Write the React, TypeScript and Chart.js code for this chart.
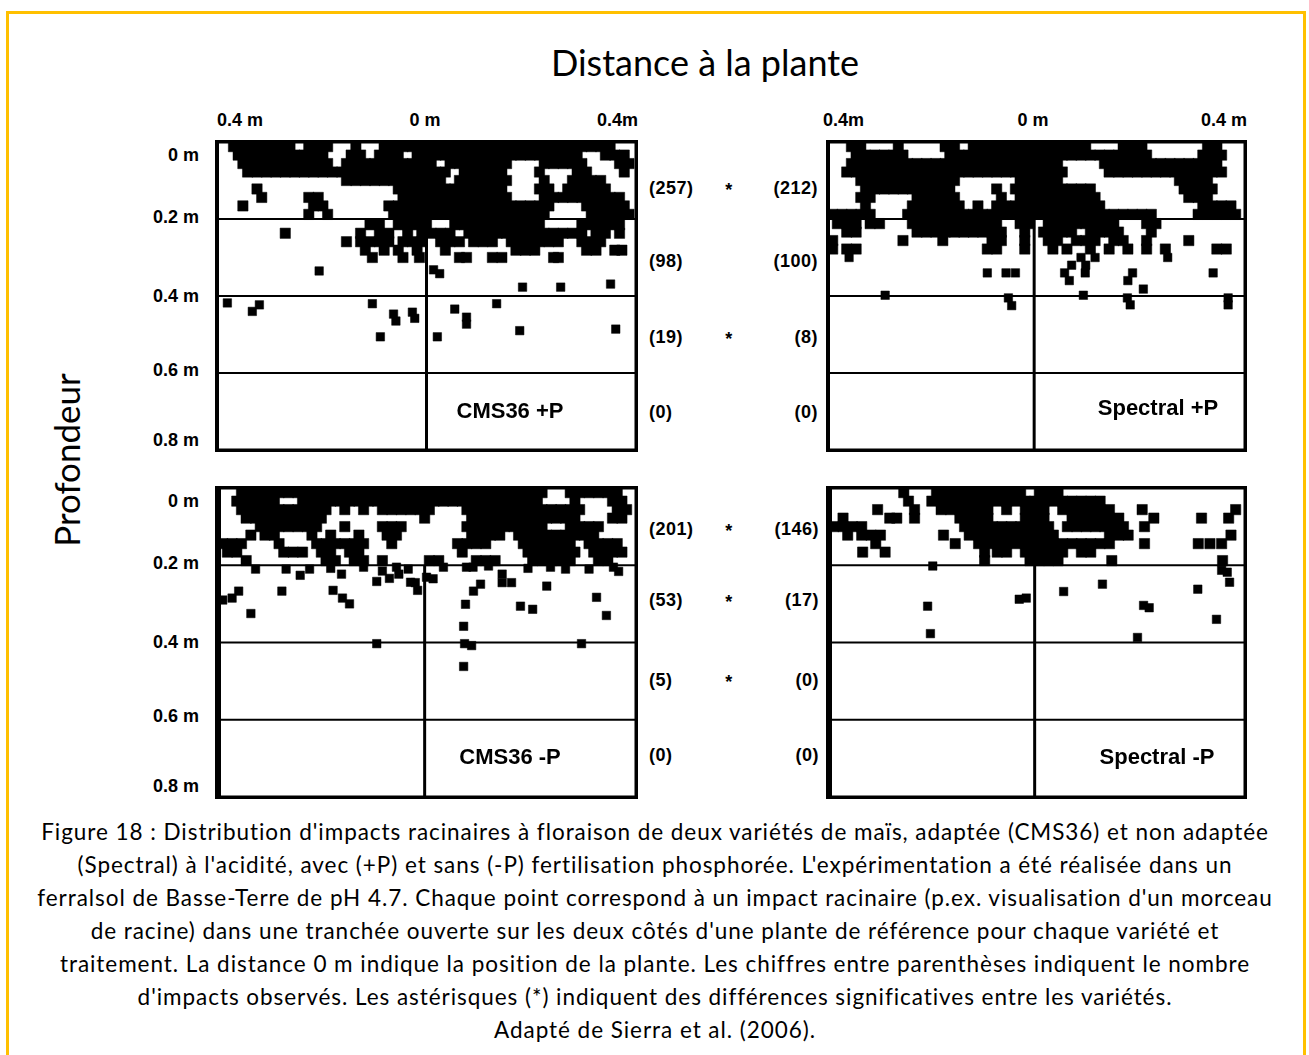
import React, { useEffect, useRef } from 'react';
import { Chart, registerables } from 'chart.js';

Chart.register(...registerables);

type Row = [number, number[]];
type Pt = [number, number];

// Units: depth in cm (0 = soil surface), horizontal distance in cm (0 = plant, negative = left side)

// ---------- CMS36 +P ----------
const cmsPlusTopRows: Row[] = [
  [1.2, [-41, -39, -37, -35, -33, -31, -29, -25, -23, -21, -15, -9, -7, -5, -3, -1, 1, 3, 5, 7, 9, 11, 13, 15, 17, 19, 21, 23, 25, 27, 29, 31, 33, 35, 37, 39]],
  [3.4, [-40, -38, -36, -34, -32, -30, -28, -26, -24, -22, -16, -14, -10, -8, -6, -2, 0, 2, 4, 6, 8, 10, 12, 14, 16, 18, 20, 22, 24, 26, 28, 30, 32, 38, 40, 42]],
  [5.6, [-39, -37, -35, -33, -31, -29, -27, -25, -23, -21, -17, -15, -13, -11, -9, -7, -5, -3, -1, 1, 5, 7, 9, 11, 13, 15, 17, 25, 27, 29, 31, 33, 41, 43]],
  [7.8, [-38, -36, -34, -32, -30, -28, -26, -24, -22, -20, -18, -16, -14, -12, -10, -8, -6, -4, -2, 0, 2, 4, 8, 10, 12, 14, 16, 24, 32, 34, 42]],
  [10, [-17, -15, -13, -11, -9, -7, -5, -3, -1, 1, 3, 7, 9, 11, 13, 15, 17, 25, 31, 33, 35, 37]],
  [12.2, [-36, -6, -4, -2, 0, 2, 4, 6, 8, 10, 12, 14, 16, 24, 26, 30, 32, 34, 36, 38]],
  [14.4, [-35, -25, -23, -5, -3, -1, 1, 3, 5, 7, 9, 11, 13, 15, 17, 25, 27, 29, 31, 33, 35, 37, 39, 41]],
  [16.6, [-39, -24, -22, -8, -6, -4, -2, 0, 2, 4, 6, 8, 10, 12, 14, 16, 18, 20, 22, 24, 26, 34, 36, 38, 40, 42]],
  [18.8, [-25, -21, -7, -5, -3, -1, 1, 3, 5, 7, 9, 11, 13, 15, 17, 19, 21, 23, 25, 35, 37, 39, 41, 43]],
];
const cmsPlusMidRows: Row[] = [
  [21.5, [-12, -10, -6, -4, -2, 0, 6, 8, 10, 12, 14, 16, 18, 20, 22, 24, 33, 35, 37, 39, 41]],
  [23.7, [-30, -14, -10, -8, -4, -1, 1, 3, 5, 9, 11, 13, 15, 17, 19, 21, 23, 25, 27, 29, 31, 33, 36, 38, 41]],
  [25.9, [-17, -14, -12, -10, -8, -5, -3, -1, 3, 5, 7, 10, 12, 14, 18, 20, 22, 24, 26, 28, 33, 35, 37]],
  [28.1, [-13, -9, -6, -2, 4, 19, 21, 23, 34, 36, 40, 41.5]],
  [30, [-11.5, -5, -1.5, 7, 8.5, 14, 16, 27, 28]],
];
const cmsPlusScattered: Pt[] = [
  [-22.8, 33.5], [1.5, 33.2], [2.8, 34.2], [20.4, 37.7], [28.5, 37.7], [39.1, 36.9],
  [-42.3, 41.8], [-37, 44], [-35.5, 42.3], [-11.5, 42], [-7, 44.7], [-6.5, 46.5], [-3, 44.2], [-2.5, 45.8],
  [-9.8, 50.6], [2.3, 50.6], [6, 43.4], [8.5, 45.5], [8.5, 47.3], [14.9, 42], [19.8, 49], [40.2, 48.6],
];

// ---------- Spectral +P ----------
const specPlusTopRows: Row[] = [
  [1.2, [-39, -37, -29, -19, -17, -13, -11, -9, -7, -5, -3, -1, 1, 3, 5, 7, 9, 11, 19, 21, 23, 37, 39]],
  [3.4, [-38, -36, -34, -32, -30, -28, -18, -16, -14, -12, -10, -8, -6, -4, -2, 0, 2, 4, 6, 8, 10, 12, 14, 16, 18, 20, 22, 24, 36, 38, 40]],
  [5.6, [-39, -37, -35, -33, -31, -29, -27, -25, -23, -21, -19, -17, -15, -13, -11, -9, -7, -5, -3, -1, 1, 3, 5, 15, 17, 19, 21, 23, 25, 27, 29, 31, 33, 35, 37, 39]],
  [7.8, [-40, -38, -36, -34, -32, -30, -28, -26, -24, -22, -20, -18, -16, -14, -12, -10, -8, -6, -4, -2, 0, 2, 4, 6, 16, 18, 20, 22, 24, 26, 28, 30, 32, 34, 36, 38, 40]],
  [10, [-37, -35, -33, -31, -29, -27, -25, -23, -21, -19, -17, -3, -1, 1, 3, 5, 31, 33, 35, 37]],
  [12.2, [-36, -34, -32, -30, -28, -26, -24, -22, -20, -18, -8, -4, -2, 0, 2, 4, 6, 8, 10, 12, 32, 34, 36, 38]],
  [14.4, [-37, -35, -25, -23, -21, -19, -17, -7, -3, -1, 1, 3, 5, 7, 9, 11, 13, 33, 35, 37]],
  [16.6, [-36, -26, -24, -22, -20, -18, -16, -12, -8, -6, -4, -2, 0, 2, 4, 6, 8, 10, 12, 14, 36, 38, 40, 42]],
  [18.8, [-43, -41, -39, -37, -35, -27, -25, -23, -21, -19, -17, -15, -13, -11, -9, -7, -5, -3, -1, 1, 3, 5, 7, 9, 11, 13, 15, 17, 19, 21, 23, 25, 35, 37, 39, 41, 43]],
];
const specPlusMidRows: Row[] = [
  [21.2, [-42, -40, -38, -35, -33, -26, -24, -22, -20, -18, -16, -14, -12, -10, -8, -3, -1, 3, 5, 7, 9, 11, 13, 15, 17, 24, 26]],
  [23.4, [-40, -38, -25, -23, -21, -19, -17, -15, -13, -11, -9, -7, -2, 2, 4, 6, 8, 12, 14, 16, 18, 25]],
  [25.6, [-43, -28, -19.5, -9, -7, -2, 3, 5, 9, 11, 13, 17, 19, 24, 33]],
  [27.8, [-43, -40, -38, -10, -8, -2, 4, 7, 12, 16, 20, 24, 28, 39, 41]],
];
const specPlusScattered: Pt[] = [
  [-39.5, 30], [10, 30], [13, 30], [28.5, 30], [8, 32], [11, 32],
  [-10, 34], [-6, 34], [-4, 34], [6.5, 34], [10.9, 34], [21, 34], [38.2, 34], [7.5, 36], [20, 36],
  [23.3, 38.2],
  [-31.8, 39.8], [-5.5, 40.5], [-4.8, 42.5], [10.5, 39.8], [19.9, 40.5], [20.5, 42.3], [41.4, 40.5], [41.4, 42.3],
];

// ---------- CMS36 -P ----------
const cmsMinusTopRows: Row[] = [
  [1.2, [-39, -37, -35, -33, -31, -29, -27, -25, -23, -21, -19, -17, -15, -13, -11, -9, -7, -5, -3, -1, 1, 3, 5, 7, 9, 11, 13, 15, 17, 19, 21, 23, 25, 31, 33, 35, 37, 39, 41]],
  [3.4, [-40, -38, -36, -34, -32, -26, -24, -22, -20, -18, -16, -14, -12, -10, -8, -6, -4, -2, 0, 2, 4, 6, 8, 10, 12, 14, 16, 18, 20, 22, 24, 32, 40, 42]],
  [5.6, [-39, -37, -35, -33, -31, -29, -27, -25, -23, -21, -17, -13, -9, -7, -5, -3, -1, 1, 9, 11, 13, 15, 17, 19, 21, 23, 25, 27, 29, 31, 33, 41, 43]],
  [7.8, [-38, -36, -34, -32, -30, -28, -26, -24, -22, 0, 10, 12, 14, 16, 18, 20, 22, 24, 26, 28, 30, 32, 40, 42]],
  [10, [-35, -33, -31, -29, -27, -25, -23, -17, -9, -7, -5, 9, 11, 13, 15, 17, 19, 21, 23, 25, 31, 33, 35, 37]],
  [12.2, [-37, -34, -32, -24, -20, -14, -8, -6, 10, 12, 14, 16, 20, 22, 24, 26, 28, 30, 32, 34, 36]],
  [14.4, [-43, -41, -39, -31, -23, -21, -19, -17, -15, -13, -7, 7, 9, 11, 13, 21, 23, 25, 27, 29, 31, 35, 37, 39, 41]],
  [16.6, [-42, -40, -30, -28, -26, -22, -20, -16, -14, 8, 22, 24, 26, 28, 30, 32, 36, 38, 40, 42]],
  [18.8, [-38, -21, -19, -15, -13, -9, 1, 3, 11, 13, 15, 23, 25, 27, 29, 31, 37, 39]],
];
const cmsMinusScattered: Pt[] = [
  [-29.5, 21], [-26.5, 22.6], [-24.5, 21], [-17.7, 22.3], [-10.2, 24.2], [-7.5, 23.4], [-5.5, 22.3], [-3.5, 21],
  [-2, 24.5], [-1.5, 26.5], [0.4, 23.1], [1.8, 23.5], [-39.6, 26.7], [-43, 29], [-41, 28.5], [-30.4, 26.7],
  [-19.5, 26.5], [-17.5, 28.5], [-16, 30], [-37, 32.5], [8.9, 20.5], [10.3, 20.5], [13.6, 20.2], [16.5, 22.3],
  [18.5, 24.5], [16.5, 24.5], [11.9, 24.9], [10.4, 26.7], [8.7, 30.1], [8.3, 35.8], [20.4, 30.6], [23, 31.4],
  [26, 25.4], [26.8, 20.5], [36.6, 28.3], [38.7, 33], [40.2, 20.5], [41.3, 21.6], [-3, 24.4], [-9, 21.5],
  [-6, 20.5], [-13, 20.5], [-20, 20.8], [4, 20.5], [22, 20.8], [30, 21], [35, 21], [-36, 21],
  [-10.2, 40.3], [8.5, 40.3], [10, 40.8], [8.3, 46.2], [33.4, 40.3],
];

// ---------- Spectral -P ----------
const specMinusTopRows: Row[] = [
  [1.2, [-28, -21, -19, -17, -15, -13, -11, -9, -7, -5, -3, 1, 3, 5]],
  [3.4, [-27, -22, -20, -18, -16, -14, -12, -10, -8, -6, -4, -2, 0, 2, 4, 6, 8, 10, 12, 14]],
  [5.6, [-33.6, -25.7, -20, -18, -16, -14, -12, -10, -6, -2, 0, 2, 6, 8, 10, 12, 14, 16, 23, 43]],
  [7.8, [-41, -31, -29.5, -25.7, -16, -14, -12, -10, -2, 0, 2, 8, 10, 12, 14, 16, 18, 25.5, 35.7, 41.5]],
  [10, [-43, -41, -39, -37, -15, -13, -11, -9, -7, -5, -3, -1, 1, 3, 7, 9, 11, 13, 15, 17, 19, 23.5]],
  [12.2, [-40, -37, -35, -33, -19.5, -14, -12, -10, -8, -6, -4, -2, 0, 2, 4, 16, 18, 20, 42]],
  [14.4, [-34, -17, -12, -10, -8, -6, -4, -2, 0, 2, 4, 6, 8, 10, 12, 14, 16, 23.5, 35, 37.5, 40]],
  [16.6, [-36.8, -32, -10.7, -8, -6, -2, 0, 2, 4, 6, 10, 12]],
  [18.8, [-10.7, -1, 1, 3, 5, 16.5, 40.2]],
];
const specMinusScattered: Pt[] = [
  [-21.8, 20.2], [-22.9, 30.6], [-22.3, 37.7], [-3.3, 28.8], [-1.8, 28.5], [6.2, 26.8], [14.5, 24.9],
  [23.3, 30.4], [24.5, 31], [22, 38.7], [34.9, 26.2], [38.9, 34], [40, 21.3], [41.2, 21.8], [41.7, 24.4],
];

// ---------- Text ----------
const topTickLabelsLeftPanel = ['0.4 m', '0 m', '0.4m'];
const topTickLabelsRightPanel = ['0.4m', '0 m', '0.4 m'];
const depthLabels = ['0 m', '0.2 m', '0.4 m', '0.6 m', '0.8 m'];
const countsCmsPlus = ['(257)', '(98)', '(19)', '(0)'];
const countsSpecPlus = ['(212)', '(100)', '(8)', '(0)'];
const countsCmsMinus = ['(201)', '(53)', '(5)', '(0)'];
const countsSpecMinus = ['(146)', '(17)', '(0)', '(0)'];
const starsPlus = ['*', '', '*', ''];
const starsMinus = ['*', '*', '*', ''];
const captionLines = [
  "Figure 18 : Distribution d'impacts racinaires à floraison de deux variétés de maïs, adaptée (CMS36) et non adaptée",
  "(Spectral) à l'acidité, avec (+P) et sans (-P) fertilisation phosphorée. L'expérimentation a été réalisée dans un",
  "ferralsol de Basse-Terre de pH 4.7. Chaque point correspond à un impact racinaire (p.ex. visualisation d'un morceau",
  "de racine) dans une tranchée ouverte sur les deux côtés d'une plante de référence pour chaque variété et",
  "traitement. La distance 0 m indique la position de la plante. Les chiffres entre parenthèses indiquent le nombre",
  "d'impacts observés. Les astérisques (*) indiquent des différences significatives entre les variétés.",
  'Adapté de Sierra et al. (2006).',
];

const rowsToPoints = (rows: Row[]) => rows.flatMap(([d, xs]) => xs.map((x) => ({ x, y: d })));
const pairsToPoints = (pts: Pt[]) => pts.map(([x, y]) => ({ x, y }));

const LABEL_FONT = '"Liberation Sans", Arial, sans-serif';
const CAPTION_FONT = 'Lato, "Open Sans", sans-serif';

type XY = { x: number; y: number };
type PanelProps = {
  left: number; top: number; width: number; height: number;
  xMin: number; xMax: number;
  dense: XY[];
  sparse: XY[];
  leftBorder: number;
};

const PAD = 8;

function Panel({ left, top, width, height, xMin, xMax, dense, sparse, leftBorder }: PanelProps) {
  const ref = useRef<HTMLCanvasElement | null>(null);
  useEffect(() => {
    if (!ref.current) return;
    const gridPlugin = {
      id: 'trenchGrid',
      beforeDatasetsDraw(chart: any) {
        const { ctx, scales } = chart;
        const xs = scales.x, ys = scales.y;
        ctx.save();
        ctx.strokeStyle = '#000';
        ctx.lineWidth = 2;
        [20, 40, 60].forEach((d) => {
          const y = ys.getPixelForValue(d);
          ctx.beginPath();
          ctx.moveTo(xs.getPixelForValue(xMin), y);
          ctx.lineTo(xs.getPixelForValue(xMax), y);
          ctx.stroke();
        });
        ctx.lineWidth = 3;
        const x0 = xs.getPixelForValue(0);
        ctx.beginPath();
        ctx.moveTo(x0, ys.getPixelForValue(20));
        ctx.lineTo(x0, ys.getPixelForValue(80));
        ctx.stroke();
        ctx.restore();
      },
      afterDatasetsDraw(chart: any) {
        const { ctx, scales } = chart;
        const xs = scales.x, ys = scales.y;
        const l = xs.getPixelForValue(xMin), r = xs.getPixelForValue(xMax);
        const t = ys.getPixelForValue(0), b = ys.getPixelForValue(80);
        ctx.save();
        ctx.fillStyle = '#000';
        ctx.fillRect(l - 2, t - 2, r - l + 4, 3.5);
        ctx.fillRect(l - 2, b - 1.5, r - l + 4, 3.5);
        ctx.fillRect(r - 1.5, t - 2, 3.5, b - t + 4);
        ctx.fillRect(l - leftBorder / 2, t - 2, leftBorder, b - t + 4);
        ctx.restore();
      },
    };
    const common = {
      pointStyle: 'rect' as const,
      backgroundColor: '#000',
      borderColor: '#000',
      borderWidth: 0.5,
    };
    const chart = new Chart(ref.current, {
      type: 'scatter',
      data: {
        datasets: [
          { ...common, data: dense, pointRadius: 7.3, pointHoverRadius: 7.3 },
          { ...common, data: sparse, pointRadius: 6, pointHoverRadius: 6 },
        ],
      },
      options: {
        responsive: false,
        animation: false,
        events: [],
        layout: { padding: PAD },
        plugins: { legend: { display: false }, tooltip: { enabled: false } },
        scales: {
          x: { type: 'linear', min: xMin, max: xMax, display: false },
          y: { type: 'linear', min: 0, max: 80, reverse: true, display: false },
        },
      },
      plugins: [gridPlugin],
    });
    return () => chart.destroy();
  }, []);
  return (
    <canvas
      ref={ref}
      width={width + 2 * PAD}
      height={height + 2 * PAD}
      style={{ position: 'absolute', left: left - PAD, top: top - PAD, width: width + 2 * PAD, height: height + 2 * PAD }}
    />
  );
}

function T({ x, y, align = 'center', style, children }: { x: number; y: number; align?: 'left' | 'center' | 'right'; style?: React.CSSProperties; children: React.ReactNode }) {
  const tx = align === 'center' ? '-50%' : align === 'right' ? '-100%' : '0';
  return (
    <div
      style={{
        position: 'absolute', left: x, top: y, transform: `translate(${tx}, -50%)`,
        whiteSpace: 'nowrap', lineHeight: 1, color: '#000', ...style,
      }}
    >
      {children}
    </div>
  );
}

const tickStyle: React.CSSProperties = { fontFamily: LABEL_FONT, fontWeight: 'bold', fontSize: 18 };
const countStyle: React.CSSProperties = { fontFamily: LABEL_FONT, fontWeight: 'bold', fontSize: 18, letterSpacing: 0.5 };
const panelLabelStyle: React.CSSProperties = { fontFamily: LABEL_FONT, fontWeight: 'bold', fontSize: 22 };

export default function App() {
  const topRowY = [188, 261, 337, 412];
  const botRowY = [529, 600, 680, 755];
  const depthYTop = [155, 217, 296, 370, 440];
  const depthYBot = [501, 563, 642, 716, 786];
  return (
    <div style={{ position: 'absolute', left: 0, top: 0, width: 1309, height: 1055, overflow: 'hidden', background: '#fff' }}>
      <div style={{ position: 'absolute', left: 6, top: 11, width: 1294, height: 1100, border: '3px solid #FFC000' }} />

      <T x={705} y={62} style={{ fontFamily: CAPTION_FONT, fontSize: 36 }}>Distance à la plante</T>
      <T x={66} y={460} style={{ fontFamily: CAPTION_FONT, fontSize: 35, transform: 'translate(-50%, -50%) rotate(-90deg)' }}>Profondeur</T>

      {/* top tick labels */}
      <T x={217} y={120} align="left" style={tickStyle}>{topTickLabelsLeftPanel[0]}</T>
      <T x={425} y={120} style={tickStyle}>{topTickLabelsLeftPanel[1]}</T>
      <T x={638} y={120} align="right" style={tickStyle}>{topTickLabelsLeftPanel[2]}</T>
      <T x={823} y={120} align="left" style={tickStyle}>{topTickLabelsRightPanel[0]}</T>
      <T x={1033} y={120} style={tickStyle}>{topTickLabelsRightPanel[1]}</T>
      <T x={1247} y={120} align="right" style={tickStyle}>{topTickLabelsRightPanel[2]}</T>

      {depthLabels.map((s, i) => (
        <T key={'dt' + i} x={199} y={depthYTop[i]} align="right" style={tickStyle}>{s}</T>
      ))}
      {depthLabels.map((s, i) => (
        <T key={'db' + i} x={199} y={depthYBot[i]} align="right" style={tickStyle}>{s}</T>
      ))}

      <Panel left={217} top={142} width={419} height={308} xMin={-44.5} xMax={44.5}
        dense={rowsToPoints(cmsPlusTopRows.concat(cmsPlusMidRows))} sparse={pairsToPoints(cmsPlusScattered)} leftBorder={4} />
      <Panel left={828} top={142} width={417} height={308} xMin={-44} xMax={45}
        dense={rowsToPoints(specPlusTopRows.concat(specPlusMidRows))} sparse={pairsToPoints(specPlusScattered)} leftBorder={4} />
      <Panel left={218} top={488} width={418} height={309} xMin={-44} xMax={45}
        dense={rowsToPoints(cmsMinusTopRows)} sparse={pairsToPoints(cmsMinusScattered)} leftBorder={6} />
      <Panel left={829} top={488} width={416} height={309} xMin={-44} xMax={45}
        dense={rowsToPoints(specMinusTopRows)} sparse={pairsToPoints(specMinusScattered)} leftBorder={6} />

      {countsCmsPlus.map((s, i) => (
        <T key={'c1' + i} x={649} y={topRowY[i]} align="left" style={countStyle}>{s}</T>
      ))}
      {countsSpecPlus.map((s, i) => (
        <T key={'c2' + i} x={818} y={topRowY[i]} align="right" style={countStyle}>{s}</T>
      ))}
      {starsPlus.map((s, i) => s && (
        <T key={'s1' + i} x={729} y={topRowY[i] + 2} style={countStyle}>{s}</T>
      ))}
      {countsCmsMinus.map((s, i) => (
        <T key={'c3' + i} x={649} y={botRowY[i]} align="left" style={countStyle}>{s}</T>
      ))}
      {countsSpecMinus.map((s, i) => (
        <T key={'c4' + i} x={819} y={botRowY[i]} align="right" style={countStyle}>{s}</T>
      ))}
      {starsMinus.map((s, i) => s && (
        <T key={'s2' + i} x={729} y={botRowY[i] + 2} style={countStyle}>{s}</T>
      ))}

      <T x={510} y={411} style={panelLabelStyle}>CMS36 +P</T>
      <T x={1158} y={408} style={panelLabelStyle}>Spectral +P</T>
      <T x={510} y={757} style={panelLabelStyle}>CMS36 -P</T>
      <T x={1157} y={757} style={panelLabelStyle}>Spectral -P</T>

      {captionLines.map((s, i) => (
        <T key={'cap' + i} x={655} y={832 + i * 33} style={{ fontFamily: CAPTION_FONT, fontSize: 22.5, letterSpacing: 0.95 }}>{s}</T>
      ))}
    </div>
  );
}
